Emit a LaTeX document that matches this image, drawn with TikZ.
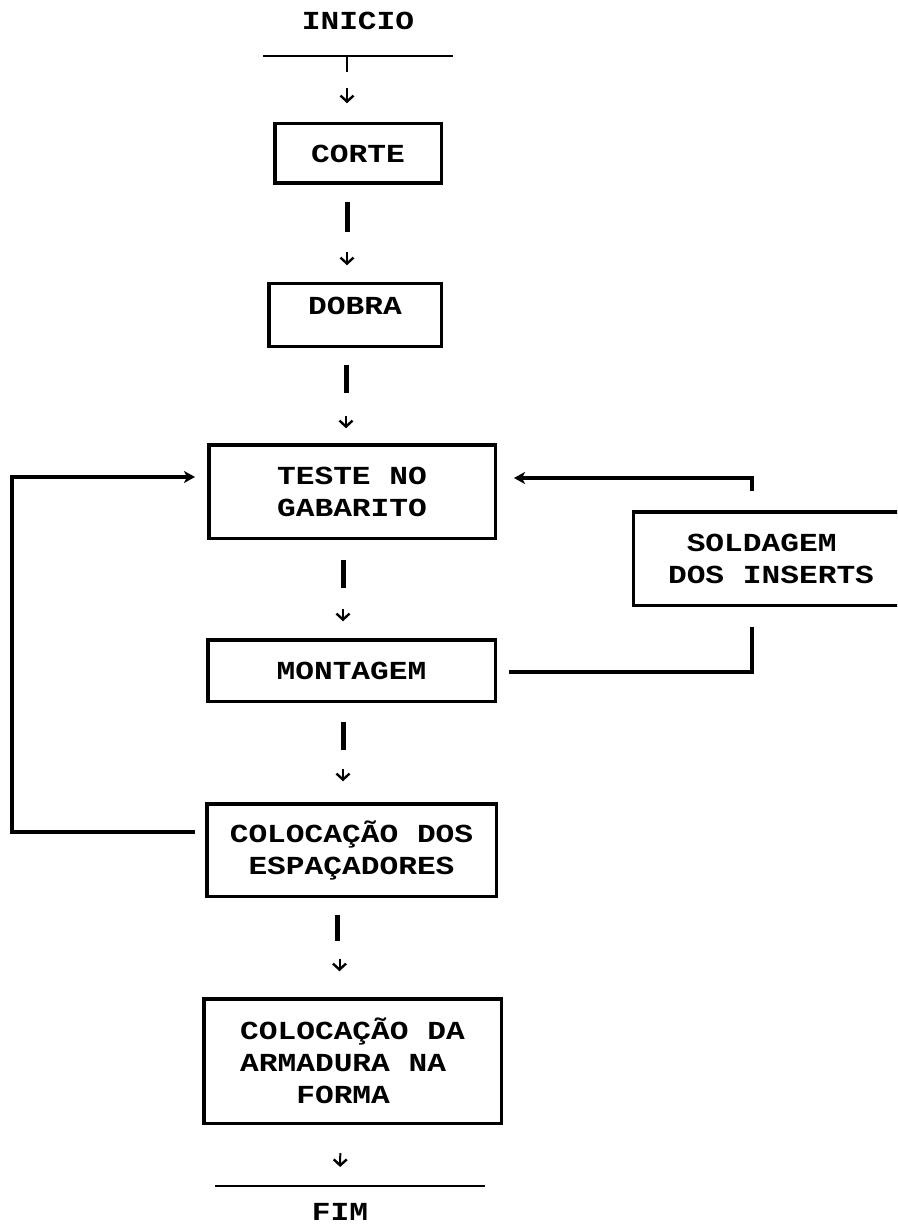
\documentclass[tikz,border=0pt]{standalone}
\usepackage{fontspec}
\usetikzlibrary{arrows.meta,calc}
\newfontfamily\printfont[FakeStretch=1.2]{Liberation Mono}

\begin{document}
\begin{tikzpicture}[x=1pt,y=-1pt,
  every node/.style={font=\printfont\bfseries\fontsize{26}{32}\selectfont, inner sep=0pt},
  stepbox/.style={draw, line width=3.5pt, align=center},
  bar/.style={line width=5pt},
  tinyarrow/.style={line width=2pt, -{Straight Barb[length=6pt,width=13pt,line width=2.4pt]}},
  loopline/.style={line width=3.5pt, line join=miter},
  looparrow/.style={loopline, -{Stealth[length=11pt,width=12pt,inset=3pt]}},
  endline/.style={line width=2pt}]
\useasboundingbox (0,0) rectangle (897,1230);
\fill[white] (0,0) rectangle (897,1230);
\clip (0,0) rectangle (897,1230);

% start and end markers
\node (inicio) at (358,21) {INICIO};
\draw[endline] (263,56) -- (453,56);
\coordinate (startline) at (347,56);
\node (fim) at (340,1212) {FIM};
\draw[endline] (215,1186) -- (485,1186);
\coordinate (endline) at (340,1186);

% process steps
\node[stepbox, minimum width=166.5, minimum height=59.5] (corte) at (358,153.5) {CORTE};
\node[stepbox, minimum width=172.5, minimum height=62.5, text height=15pt, text depth=16pt] (dobra) at (355,315) {DOBRA};
\node[stepbox, minimum width=286.5, minimum height=93.5] (teste) at (352,491.5) {TESTE NO\\GABARITO};
\node[stepbox, minimum width=287.5, minimum height=61.5] (montagem) at (351.5,670.5) {MONTAGEM};
\node[stepbox, minimum width=289.5, minimum height=92.5] (espac) at (351.5,850) {COLOCAÇÃO DOS\\ESPAÇADORES};
\node[stepbox, minimum width=297.5, minimum height=124.5, align=left] (armadura) at (352.5,1061) {COLOCAÇÃO DA\\ARMADURA NA\\\ \ \ FORMA};
\node[stepbox, minimum width=275, minimum height=93.5, align=left] (solda) at (771,558.5) {\ SOLDAGEM\\DOS INSERTS};

% start into the first step
\draw[endline] (startline) -- ++(0,16);
\draw[tinyarrow, shorten <=32pt, shorten >=18.75pt] (startline) -- ([xshift=-11]corte.north);

% main sequence: thick bar, then a small arrow
\draw[bar, shorten <=16.75pt, shorten >=49.75pt] ([xshift=-11]corte.south) -- ([xshift=-11]corte.south |- dobra.north);
\draw[tinyarrow, shorten <=66.75pt, shorten >=16.75pt] ([xshift=-11]corte.south) -- ([xshift=-11]corte.south |- dobra.north);

\draw[bar, shorten <=16.75pt, shorten >=49.75pt] ([xshift=-9]dobra.south) -- ([xshift=-9]dobra.south |- teste.north);
\draw[tinyarrow, shorten <=67.75pt, shorten >=14.75pt] ([xshift=-9]dobra.south) -- ([xshift=-9]dobra.south |- teste.north);

\draw[bar, shorten <=19.75pt, shorten >=49.75pt] ([xshift=-9]teste.south) -- ([xshift=-9]teste.south |- montagem.north);
\draw[tinyarrow, shorten <=68.75pt, shorten >=16.75pt] ([xshift=-9]teste.south) -- ([xshift=-9]teste.south |- montagem.north);

\draw[bar, shorten <=18.75pt, shorten >=51.75pt] ([xshift=-8.5]montagem.south) -- ([xshift=-8.5]montagem.south |- espac.north);
\draw[tinyarrow, shorten <=65.75pt, shorten >=20.75pt] ([xshift=-8.5]montagem.south) -- ([xshift=-8.5]montagem.south |- espac.north);

\draw[bar, shorten <=16.75pt, shorten >=55.75pt] ([xshift=-14]espac.south) -- ([xshift=-14]espac.south |- armadura.north);
\draw[tinyarrow, shorten <=60.75pt, shorten >=25.75pt] ([xshift=-12]espac.south) -- ([xshift=-12]espac.south |- armadura.north);

% last step to the end
\draw[tinyarrow, shorten <=28pt, shorten >=19pt] ([xshift=-12]armadura.south) -- (endline);

% feedback from the spacers back to the template test
\coordinate (leftrail) at (12,0);
\coordinate (spacout) at ([shift={(-10,-18)}]espac.west);
\coordinate (testein) at ([shift={(-12,-14.5)}]teste.west);
\draw[looparrow] (spacout) -| (leftrail |- testein) -- (testein);

% loop through the insert welding
\coordinate (montout) at ([shift={(12,1.5)}]montagem.east);
\coordinate (soldain) at ([shift={(-19,20)}]solda.south);
\coordinate (soldaout) at ([shift={(-19,-18.75)}]solda.north);
\coordinate (testeback) at ([shift={(17,-13.5)}]teste.east);
\draw[loopline] (montout) -| (soldain);
\draw[looparrow] (soldaout) |- (testeback);
\end{tikzpicture}
\end{document}
